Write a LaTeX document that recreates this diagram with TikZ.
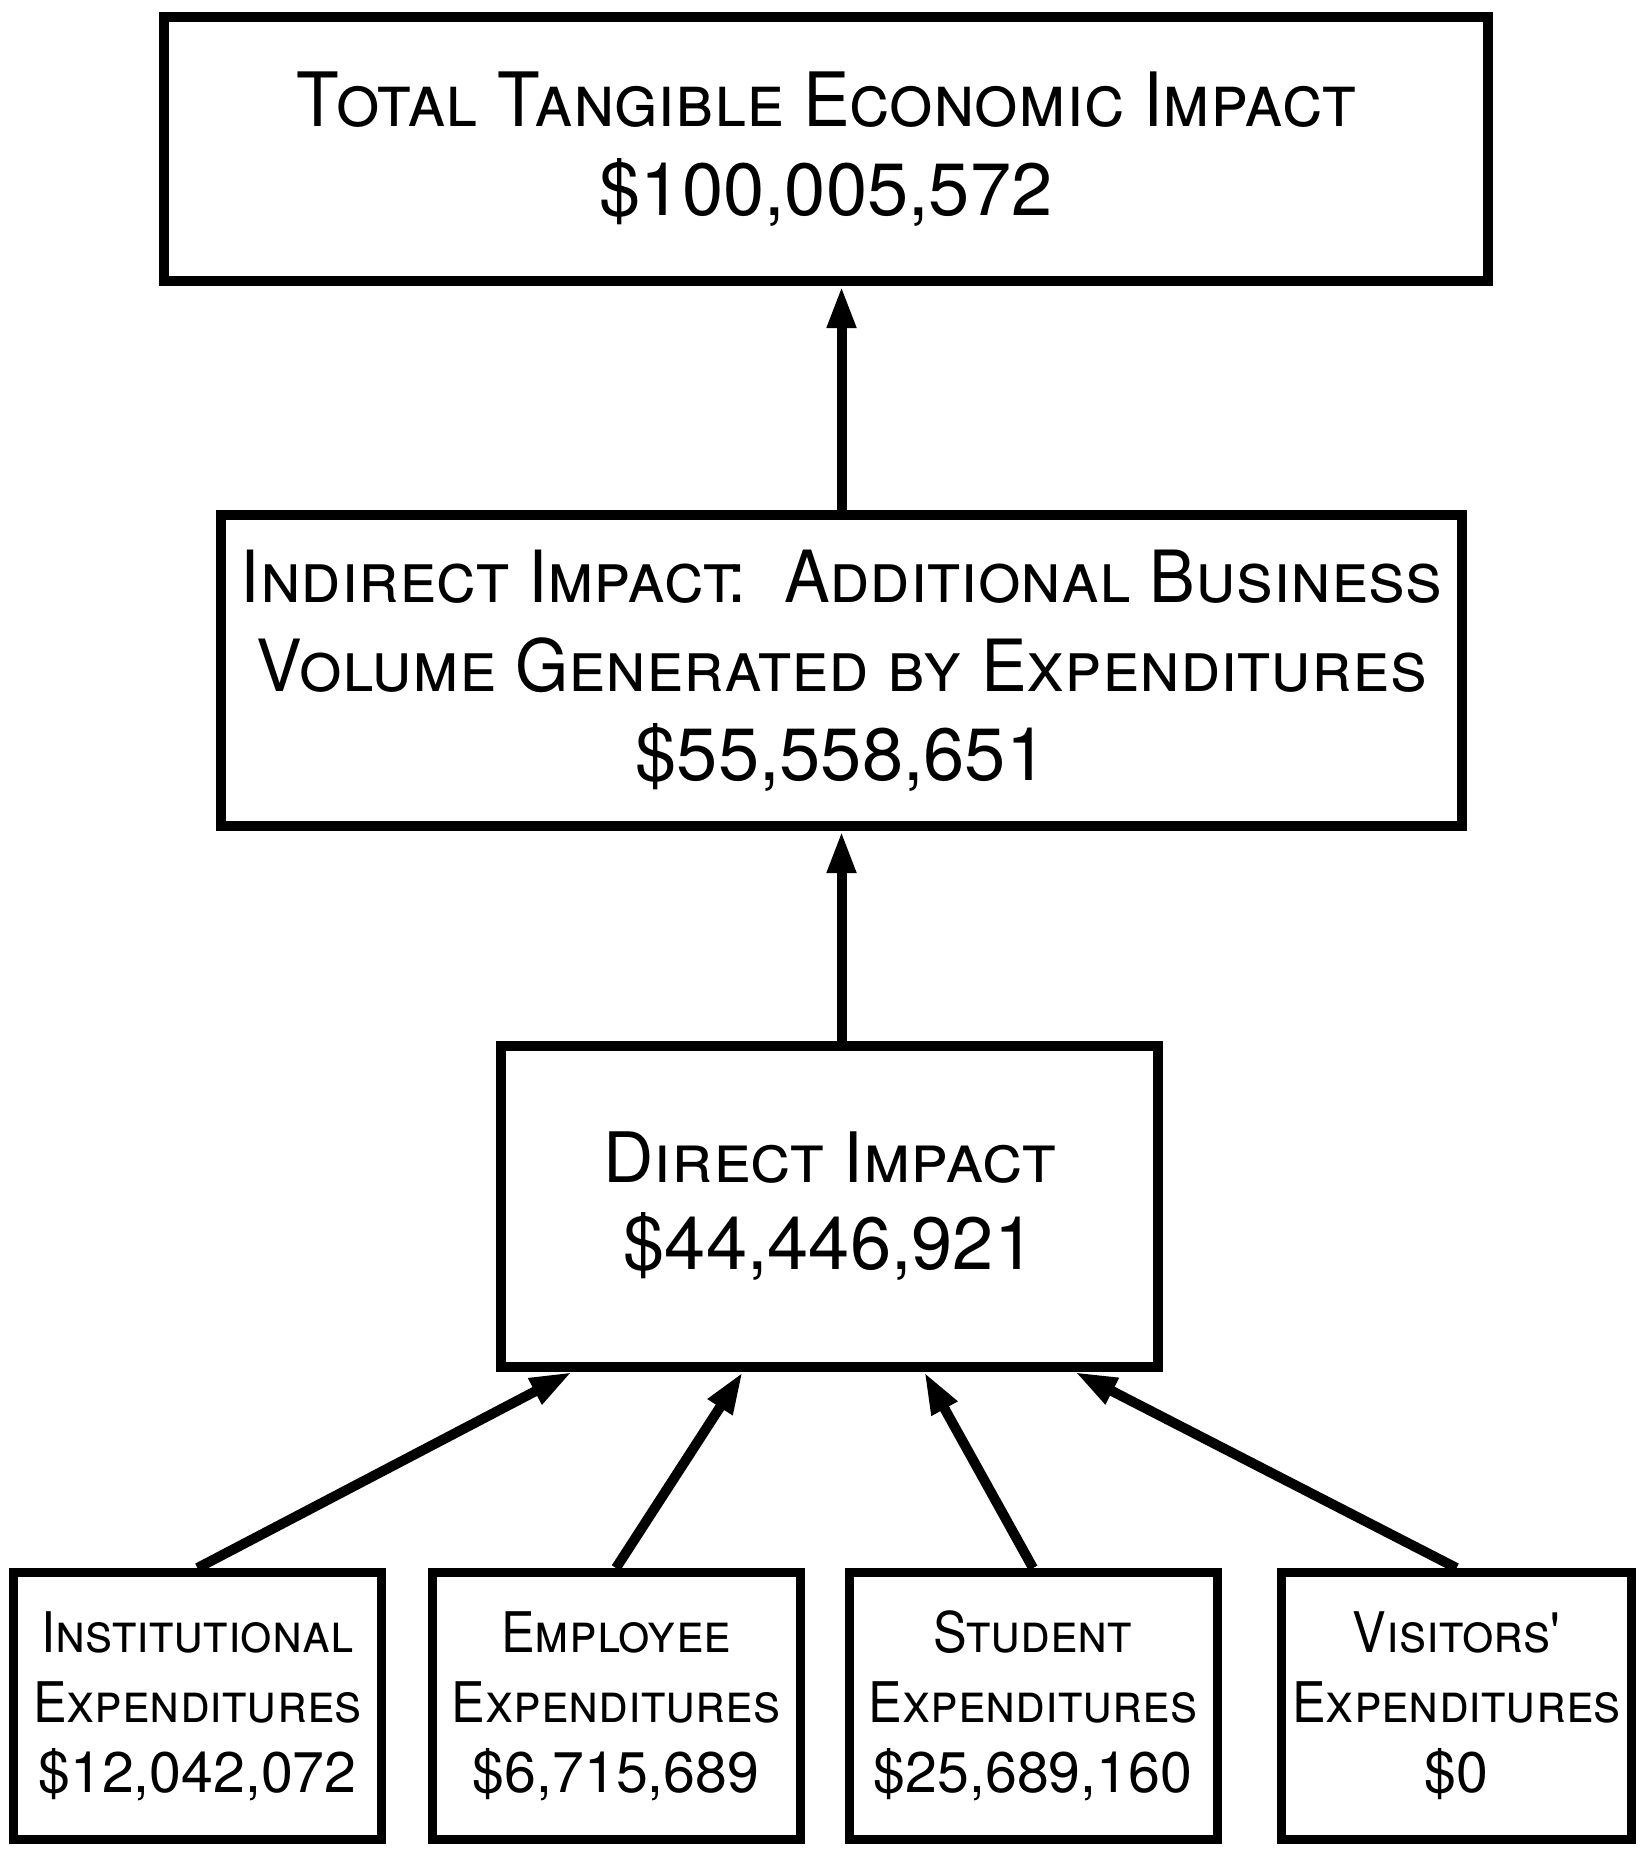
\documentclass[tikz,border=0pt]{standalone}
\usepackage{fontspec}
\setmainfont{TeX Gyre Heros}
\newfontfamily\titlefont[FakeStretch=0.93]{TeX Gyre Heros}
\newfontfamily\midfont[FakeStretch=0.95]{TeX Gyre Heros}
\newfontfamily\narrowfont[FakeStretch=0.9]{TeX Gyre Heros}
\newcommand{\sumfont}{\normalfont\fontsize{37}{44.5}\selectfont}
\usetikzlibrary{arrows.meta}
\usetikzlibrary{calc}
\tikzset{impactbox/.style = {draw, line width = 5pt, align = center, inner sep = 0}}
\tikzset{spendbox/.style = {draw, line width = 4.5pt, align = center, inner sep = 0,
    minimum height = 133.5pt, font = \narrowfont\fontsize{28}{35}\selectfont}}
\tikzset{flow/.style = {line width = 5pt, -{Triangle[length = 21pt, width = 13.5pt]}}}

\begin{document}
\begin{tikzpicture}[x = 0.5pt, y = -0.5pt]
      \useasboundingbox (0, 0) rectangle (1641, 1851);

      \node [impactbox, minimum width = 662pt, minimum height = 132pt,
        font = \titlefont\fontsize{37.5}{44.5}\selectfont] (total) at (826, 149)
        {\textsc{Total Tangible Economic Impact}\\{\sumfont\$100,005,572}};
      \node [impactbox, minimum width = 620.5pt, minimum height = 155.5pt,
        font = \midfont\fontsize{36}{44.5}\selectfont] (indirect) at (841.5, 670.5)
        {\textsc{Indirect Impact:\ \ Additional Business}\\
         \textsc{Volume Generated by Expenditures}\\{\sumfont\$55,558,651}};
      \node [impactbox, minimum width = 328.5pt, minimum height = 160.5pt,
        font = \fontsize{34.8}{43.5}\selectfont] (direct) at (829.5, 1206.5)
        {\textsc{Direct Impact}\\{\sumfont\$44,446,921}};

      \foreach \name/\x/\w/\kind/\amount in {inst/197.5/184/Institutional/{\$12,042,072},
          empl/616/184/Employee/{\$6,715,689}, stud/1033/184/Student/{\$25,689,160},
          visit/1456.5/175/Visitors'/{\$0}} {
        \node [spendbox, minimum width = \w pt] (\name) at (\x, 1706)
          {\textsc{\kind}\\\textsc{Expenditures}\\{\normalfont\fontsize{28.6}{35}\selectfont\amount}};
      }

      \draw [flow] (indirect.north) -- (total.south -| indirect.north);
      \draw [flow] (direct.north -| indirect.south) -- (indirect.south);
      \foreach \name/\f in {inst/0.114, empl/0.370, stud/0.642, visit/0.868} {
        \draw [flow] (\name.north) -- ($(direct.south west)!\f!(direct.south east)$);
      }
    \end{tikzpicture}
\end{document}
